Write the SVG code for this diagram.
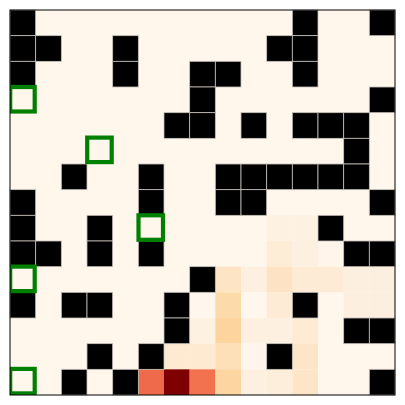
<svg xmlns="http://www.w3.org/2000/svg" width="405" height="405" viewBox="0 0 405 405">
<style>
.bg{fill:#fff7ec}
.b{fill:#000;stroke:#c8c2bc;stroke-width:0.8}
.g{fill:none;stroke:#008000;stroke-width:4.2}
.frame{fill:none;stroke:#000;stroke-width:1}
</style>
<defs>
<clipPath id="ax"><rect x="10" y="10" width="385" height="385"/></clipPath>
</defs>
<rect x="0" y="0" width="405" height="405" fill="#fff"/>
<rect class="bg" x="10" y="10" width="385" height="385"/>
<g id="heat">
<rect x="266.67" y="215.33" width="25.67" height="25.67" fill="#fdf1e2"/>
<rect x="292.33" y="215.33" width="25.67" height="25.67" fill="#fdf1e2"/>
<rect x="266.67" y="241" width="25.67" height="25.67" fill="#fdecd6"/>
<rect x="292.33" y="241" width="25.67" height="25.67" fill="#fdf0e0"/>
<rect x="318" y="241" width="25.67" height="25.67" fill="#fff5eb"/>
<rect x="215.33" y="266.67" width="25.67" height="25.67" fill="#fde4c4"/>
<rect x="241" y="266.67" width="25.67" height="25.67" fill="#fdf0e0"/>
<rect x="266.67" y="266.67" width="25.67" height="25.67" fill="#fde3c3"/>
<rect x="292.33" y="266.67" width="25.67" height="25.67" fill="#fdebd5"/>
<rect x="318" y="266.67" width="25.67" height="25.67" fill="#fdebd5"/>
<rect x="343.67" y="266.67" width="25.67" height="25.67" fill="#fdefe0"/>
<rect x="369.33" y="266.67" width="25.67" height="25.67" fill="#fdefe0"/>
<rect x="189.67" y="292.33" width="25.67" height="25.67" fill="#fff6ed"/>
<rect x="215.33" y="292.33" width="25.67" height="25.67" fill="#fddaa9"/>
<rect x="241" y="292.33" width="25.67" height="25.67" fill="#fff6ed"/>
<rect x="266.67" y="292.33" width="25.67" height="25.67" fill="#fdebd5"/>
<rect x="343.67" y="292.33" width="25.67" height="25.67" fill="#fdefe0"/>
<rect x="369.33" y="292.33" width="25.67" height="25.67" fill="#fdefe0"/>
<rect x="189.67" y="318" width="25.67" height="25.67" fill="#fdf1e2"/>
<rect x="215.33" y="318" width="25.67" height="25.67" fill="#fdd49e"/>
<rect x="241" y="318" width="25.67" height="25.67" fill="#fdf0e0"/>
<rect x="266.67" y="318" width="25.67" height="25.67" fill="#fdf0e0"/>
<rect x="292.33" y="318" width="25.67" height="25.67" fill="#fdebd5"/>
<rect x="164" y="343.67" width="25.67" height="25.67" fill="#fdead0"/>
<rect x="189.67" y="343.67" width="25.67" height="25.67" fill="#fdead0"/>
<rect x="215.33" y="343.67" width="25.67" height="25.67" fill="#fddfb8"/>
<rect x="241" y="343.67" width="25.67" height="25.67" fill="#fff5ec"/>
<rect x="292.33" y="343.67" width="25.67" height="25.67" fill="#fde6c8"/>
<rect x="138.33" y="369.33" width="25.67" height="25.67" fill="#ef6a4b"/>
<rect x="164" y="369.33" width="25.67" height="25.67" fill="#7f0000"/>
<rect x="189.67" y="369.33" width="25.67" height="25.67" fill="#f2714f"/>
<rect x="215.33" y="369.33" width="25.67" height="25.67" fill="#fdd5a0"/>
<rect x="241" y="369.33" width="25.67" height="25.67" fill="#fdf0e0"/>
<rect x="266.67" y="369.33" width="25.67" height="25.67" fill="#fdeedb"/>
<rect x="292.33" y="369.33" width="25.67" height="25.67" fill="#fde6c8"/>
</g>
<g id="walls">
<rect class="b" x="10" y="10" width="25.67" height="25.67"/>
<rect class="b" x="292.33" y="10" width="25.67" height="25.67"/>
<rect class="b" x="369.33" y="10" width="25.67" height="25.67"/>
<rect class="b" x="10" y="35.67" width="25.67" height="25.67"/>
<rect class="b" x="35.67" y="35.67" width="25.67" height="25.67"/>
<rect class="b" x="112.67" y="35.67" width="25.67" height="25.67"/>
<rect class="b" x="266.67" y="35.67" width="25.67" height="25.67"/>
<rect class="b" x="292.33" y="35.67" width="25.67" height="25.67"/>
<rect class="b" x="10" y="61.33" width="25.67" height="25.67"/>
<rect class="b" x="112.67" y="61.33" width="25.67" height="25.67"/>
<rect class="b" x="189.67" y="61.33" width="25.67" height="25.67"/>
<rect class="b" x="215.33" y="61.33" width="25.67" height="25.67"/>
<rect class="b" x="292.33" y="61.33" width="25.67" height="25.67"/>
<rect class="b" x="189.67" y="87" width="25.67" height="25.67"/>
<rect class="b" x="369.33" y="87" width="25.67" height="25.67"/>
<rect class="b" x="164" y="112.67" width="25.67" height="25.67"/>
<rect class="b" x="189.67" y="112.67" width="25.67" height="25.67"/>
<rect class="b" x="241" y="112.67" width="25.67" height="25.67"/>
<rect class="b" x="292.33" y="112.67" width="25.67" height="25.67"/>
<rect class="b" x="318" y="112.67" width="25.67" height="25.67"/>
<rect class="b" x="343.67" y="112.67" width="25.67" height="25.67"/>
<rect class="b" x="343.67" y="138.33" width="25.67" height="25.67"/>
<rect class="b" x="61.33" y="164" width="25.67" height="25.67"/>
<rect class="b" x="138.33" y="164" width="25.67" height="25.67"/>
<rect class="b" x="215.33" y="164" width="25.67" height="25.67"/>
<rect class="b" x="241" y="164" width="25.67" height="25.67"/>
<rect class="b" x="266.67" y="164" width="25.67" height="25.67"/>
<rect class="b" x="292.33" y="164" width="25.67" height="25.67"/>
<rect class="b" x="318" y="164" width="25.67" height="25.67"/>
<rect class="b" x="343.67" y="164" width="25.67" height="25.67"/>
<rect class="b" x="10" y="189.67" width="25.67" height="25.67"/>
<rect class="b" x="138.33" y="189.67" width="25.67" height="25.67"/>
<rect class="b" x="215.33" y="189.67" width="25.67" height="25.67"/>
<rect class="b" x="241" y="189.67" width="25.67" height="25.67"/>
<rect class="b" x="369.33" y="189.67" width="25.67" height="25.67"/>
<rect class="b" x="10" y="215.33" width="25.67" height="25.67"/>
<rect class="b" x="87" y="215.33" width="25.67" height="25.67"/>
<rect class="b" x="318" y="215.33" width="25.67" height="25.67"/>
<rect class="b" x="10" y="241" width="25.67" height="25.67"/>
<rect class="b" x="35.67" y="241" width="25.67" height="25.67"/>
<rect class="b" x="87" y="241" width="25.67" height="25.67"/>
<rect class="b" x="138.33" y="241" width="25.67" height="25.67"/>
<rect class="b" x="343.67" y="241" width="25.67" height="25.67"/>
<rect class="b" x="369.33" y="241" width="25.67" height="25.67"/>
<rect class="b" x="189.67" y="266.67" width="25.67" height="25.67"/>
<rect class="b" x="10" y="292.33" width="25.67" height="25.67"/>
<rect class="b" x="61.33" y="292.33" width="25.67" height="25.67"/>
<rect class="b" x="87" y="292.33" width="25.67" height="25.67"/>
<rect class="b" x="164" y="292.33" width="25.67" height="25.67"/>
<rect class="b" x="292.33" y="292.33" width="25.67" height="25.67"/>
<rect class="b" x="164" y="318" width="25.67" height="25.67"/>
<rect class="b" x="343.67" y="318" width="25.67" height="25.67"/>
<rect class="b" x="369.33" y="318" width="25.67" height="25.67"/>
<rect class="b" x="87" y="343.67" width="25.67" height="25.67"/>
<rect class="b" x="138.33" y="343.67" width="25.67" height="25.67"/>
<rect class="b" x="266.67" y="343.67" width="25.67" height="25.67"/>
<rect class="b" x="61.33" y="369.33" width="25.67" height="25.67"/>
<rect class="b" x="112.67" y="369.33" width="25.67" height="25.67"/>
<rect class="b" x="369.33" y="369.33" width="25.67" height="25.67"/>
</g>
<g id="markers" clip-path="url(#ax)">
<rect id="m1" class="g" x="10.2" y="87" width="24.5" height="24.5"/>
<rect id="m2" class="g" x="87.2" y="137.6" width="24.5" height="24.5"/>
<rect id="m3" class="g" x="138.5" y="215.3" width="24.5" height="24.5"/>
<rect id="m4" class="g" x="10.2" y="266.6" width="24.5" height="24.5"/>
<rect id="m5" class="g" x="10.2" y="368.9" width="24.5" height="24.5"/>
</g>
<rect class="frame" x="10" y="10" width="385" height="385"/>
</svg>
